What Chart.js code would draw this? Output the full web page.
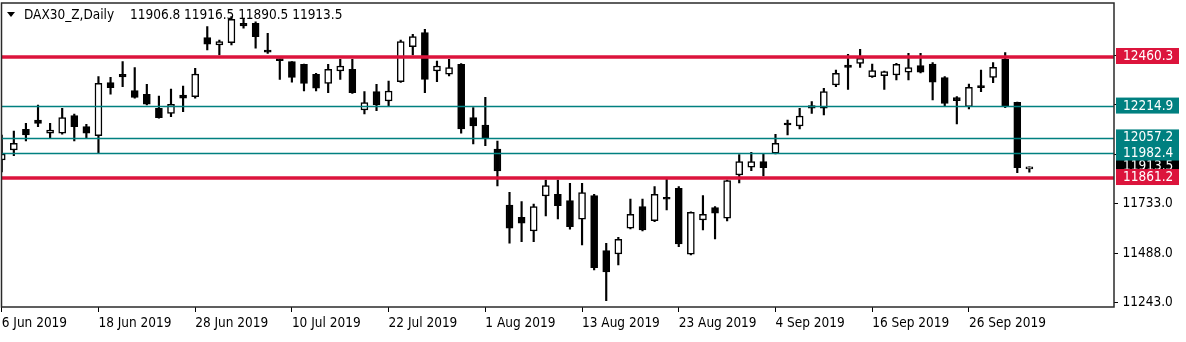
<!DOCTYPE html>
<html>
<head>
<meta charset="utf-8">
<title>DAX30_Z,Daily</title>
<script src="https://cdn.jsdelivr.net/npm/chart.js@4.4.1/dist/chart.umd.min.js"></script>
<style>
  html, body { margin: 0; padding: 0; background: #fff; }
  #grafico { display: block; }
</style>
</head>
<body>
<canvas id="grafico" width="1186" height="342"></canvas>
<script>
// Barras diárias: abertura, máxima, mínima e fechamento
const abertura = [
  11950.5, 12000.0, 12102.4, 12148.4, 12082.6, 12082.6, 12169.7, 12115.3, 12070.7, 12333.1,
  12374.7, 12293.5, 12275.7, 12206.4, 12181.6, 12272.2, 12263.8, 12555.8, 12519.7, 12531.1,
  12627.1, 12627.1, 12495.0, 12448.9, 12437.0, 12424.2, 12374.7, 12330.1, 12391.0, 12399.4,
  12198.0, 12288.5, 12242.5, 12338.0, 12511.3, 12580.6, 12391.0, 12374.7, 12424.2, 12159.8,
  12123.7, 12004.9, 11727.7, 11666.8, 11599.0, 11772.2, 11780.6, 11749.0, 11656.9, 11773.7,
  11501.5, 11485.2, 11612.4, 11719.3, 11650.0, 11763.8, 11810.4, 11483.7, 11653.5, 11714.3,
  11661.9, 11876.2, 11914.3, 11942.0, 11983.6, 12132.1, 12118.8, 12219.2, 12206.4, 12321.7,
  12420.7, 12429.1, 12362.8, 12367.7, 12371.2, 12384.6, 12417.2, 12425.7, 12357.8, 12258.8,
  12214.3, 12316.8, 12359.8, 12448.9, 12236.1, 11906.8
];
const maxima = [
  12074.2, 12094.0, 12132.1, 12222.7, 12132.1, 12206.4, 12178.1, 12127.2, 12362.8, 12359.8,
  12437.0, 12407.3, 12325.2, 12267.3, 12301.9, 12316.8, 12404.4, 12610.3, 12544.5, 12659.8,
  12651.9, 12635.0, 12577.6, 12450.0, 12438.0, 12425.0, 12379.6, 12424.2, 12448.9, 12448.9,
  12288.5, 12325.2, 12341.5, 12544.5, 12572.7, 12597.4, 12440.5, 12448.9, 12428.0, 12209.3,
  12260.8, 12044.5, 11790.6, 11744.0, 11732.6, 11851.4, 11851.4, 11835.1, 11835.1, 11780.6,
  11538.1, 11567.8, 11757.4, 11757.4, 11818.3, 11854.9, 11818.3, 11694.0, 11773.7, 11719.3,
  11851.4, 11977.2, 11988.6, 11978.7, 12077.7, 12148.4, 12206.4, 12239.0, 12305.4, 12396.0,
  12473.7, 12498.4, 12425.7, 12390.0, 12429.1, 12478.6, 12478.6, 12432.1, 12362.8, 12263.8,
  12326.6, 12396.0, 12432.1, 12481.6, 12237.0, 11916.5
];
const minima = [
  11891.1, 11971.7, 12044.5, 12115.3, 12057.9, 12077.7, 12044.5, 12057.9, 11983.6, 12275.7,
  12313.3, 12255.9, 12222.7, 12156.9, 12164.8, 12189.5, 12255.9, 12495.0, 12470.2, 12519.7,
  12602.4, 12503.4, 12478.6, 12349.9, 12335.1, 12292.0, 12292.0, 12283.6, 12349.9, 12280.0,
  12178.1, 12194.5, 12214.3, 12335.0, 12470.2, 12283.6, 12338.0, 12366.3, 12082.6, 12029.7,
  12021.3, 11821.8, 11538.1, 11546.0, 11546.0, 11673.2, 11658.4, 11607.4, 11529.7, 11406.0,
  11254.0, 11430.7, 11608.9, 11599.0, 11645.0, 11703.0, 11521.3, 11480.2, 11604.0, 11559.4,
  11648.5, 11836.6, 11897.5, 11871.3, 11980.2, 12074.2, 12103.9, 12181.6, 12173.2, 12313.3,
  12300.4, 12409.3, 12359.8, 12300.4, 12346.5, 12346.5, 12382.0, 12247.5, 12217.7, 12128.6,
  12202.9, 12288.5, 12333.1, 12210.0, 11887.6, 11890.5
];
const fechamento = [
  11980.2, 12033.1, 12074.2, 12132.1, 12098.9, 12159.8, 12115.3, 12082.6, 12330.1, 12308.3,
  12361.3, 12260.8, 12226.2, 12159.8, 12226.2, 12255.9, 12376.2, 12523.2, 12536.0, 12646.9,
  12613.8, 12560.8, 12483.6, 12442.0, 12359.8, 12330.1, 12305.4, 12399.4, 12415.8, 12283.6,
  12234.1, 12222.7, 12292.0, 12536.0, 12560.8, 12349.9, 12415.8, 12407.3, 12103.9, 12118.8,
  12057.9, 11896.0, 11612.4, 11637.1, 11719.3, 11823.2, 11724.2, 11620.3, 11788.6, 11417.3,
  11396.1, 11557.9, 11681.7, 11604.0, 11780.6, 11755.9, 11534.6, 11691.6, 11681.7, 11686.6,
  11848.0, 11942.0, 11942.0, 11912.3, 12033.1, 12123.7, 12168.3, 12206.4, 12288.5, 12379.6,
  12409.3, 12453.9, 12392.5, 12387.5, 12424.2, 12407.3, 12384.6, 12335.1, 12231.1, 12244.0,
  12310.3, 12308.3, 12409.3, 12214.3, 11912.0, 11913.5
];

// Rótulos do eixo de tempo (um a cada 8 barras)
const rotulosDatas = ['6 Jun 2019', '18 Jun 2019', '28 Jun 2019', '10 Jul 2019', '22 Jul 2019',
  '1 Aug 2019', '13 Aug 2019', '23 Aug 2019', '4 Sep 2019', '16 Sep 2019', '26 Sep 2019'];
const passoDatas = 8;

// Escala de preços e níveis horizontais
const ticksPreco = [11243, 11488, 11733, 11978, 12223, 12468];
const niveisVermelhos = [12460.3, 11861.2];
const niveisVerdes = [12214.9, 12057.2, 11982.4];
const simbolo = 'DAX30_Z,Daily';

const fonte = '"DejaVu Sans Condensed", "DejaVu Sans", sans-serif';
const tamFonte = 13.5;

function corCandle(i) {
    return fechamento[i] >= abertura[i] ? '#ffffff' : '#000000';
}

// Linhas de suporte/resistência, moldura, etiquetas de preço e cabeçalho
const pluginNiveis = {
    id: 'niveis',
    afterDatasetsDraw(chart) {
        const { ctx, chartArea: a, scales: { y } } = chart;
        ctx.save();
        ctx.beginPath();
        ctx.rect(a.left, a.top, a.right - a.left, a.bottom - a.top);
        ctx.clip();
        const linha = (v, cor, largura) => {
            const py = y.getPixelForValue(v);
            ctx.strokeStyle = cor;
            ctx.lineWidth = largura;
            ctx.beginPath();
            ctx.moveTo(a.left, py);
            ctx.lineTo(a.right, py);
            ctx.stroke();
        };
        niveisVerdes.forEach(v => linha(v, '#008080', 1.5));
        niveisVermelhos.forEach(v => linha(v, '#dc143c', 3.5));
        ctx.restore();
    },
    afterDraw(chart) {
        const { ctx, chartArea: a, scales: { y } } = chart;
        ctx.save();
        // moldura da área do gráfico
        ctx.strokeStyle = '#2a2a2a';
        ctx.lineWidth = 1.5;
        ctx.strokeRect(a.left, a.top, a.right - a.left, a.bottom - a.top);

        // etiquetas coloridas no eixo de preços
        ctx.font = tamFonte + 'px ' + fonte;
        ctx.textBaseline = 'middle';
        ctx.textAlign = 'left';
        const etiqueta = (v, fundo, corTexto) => {
            const py = y.getPixelForValue(v) - 1;
            ctx.fillStyle = fundo;
            ctx.fillRect(a.right + 2, py - 8, 63, 16);
            ctx.fillStyle = corTexto;
            ctx.fillText(v.toFixed(1), a.right + 9, py + 0.5);
        };
        etiqueta(fechamento[fechamento.length - 1], '#000000', '#ffffff');
        niveisVerdes.forEach(v => etiqueta(v, '#008080', '#ffffff'));
        niveisVermelhos.forEach(v => etiqueta(v, '#dc143c', '#ffffff'));

        // cabeçalho: símbolo e OHLC da última barra
        const u = fechamento.length - 1;
        ctx.fillStyle = '#000000';
        ctx.beginPath();
        ctx.moveTo(7, 12);
        ctx.lineTo(15, 12);
        ctx.lineTo(11, 17);
        ctx.closePath();
        ctx.fill();
        ctx.fillText(simbolo, 24, 15);
        const ohlc = [abertura[u], maxima[u], minima[u], fechamento[u]].map(v => v.toFixed(1)).join(' ');
        ctx.fillText(ohlc, 130, 15);
        ctx.restore();
    }
};

// Sem folga extra para os rótulos das pontas: a área do gráfico fica fixa
function ajustaEixo(s, prop, tamanho) {
    s[prop] = tamanho;
    s.paddingTop = 0;
    s.paddingBottom = 0;
    s.paddingLeft = 0;
    s.paddingRight = 0;
}

function grafico(canvas = 'grafico') {
    const canvasElement = document.getElementById(canvas);
    if (!canvasElement) {
        console.error('Elemento canvas ' + canvas + ' não encontrado.');
        return;
    }
    // corpo do candle (abertura → fechamento) e pavio (mínima → máxima)
    const corpos = abertura.map((o, i) => ({ x: i, y: [o, fechamento[i]] }));
    const pavios = maxima.map((h, i) => ({ x: i, y: [minima[i], h] }));

    const ctx = canvasElement.getContext('2d');
    return new Chart(ctx, {
        type: 'bar',
        data: {
            datasets: [
                {
                    label: 'corpo',
                    data: corpos,
                    backgroundColor: c => corCandle(c.dataIndex),
                    borderColor: '#000000',
                    borderWidth: 1.5,
                    borderSkipped: false,
                    barThickness: 7,
                    minBarLength: 2,
                    grouped: false
                },
                {
                    label: 'pavio',
                    data: pavios,
                    backgroundColor: '#000000',
                    borderWidth: 0,
                    barThickness: 1.5,
                    grouped: false
                }
            ]
        },
        options: {
            responsive: false,
            animation: false,
            events: [],
            layout: { padding: { left: 1.5, top: 3, right: 0, bottom: 0 } },
            plugins: {
                legend: { display: false },
                tooltip: { enabled: false }
            },
            scales: {
                x: {
                    type: 'linear',
                    min: -0.02,
                    max: 92,
                    offset: false,
                    afterBuildTicks: s => { s.ticks = rotulosDatas.map((t, i) => ({ value: i * passoDatas })); },
                    afterFit: s => ajustaEixo(s, 'height', 35),
                    ticks: {
                        callback: v => rotulosDatas[Math.round(v / passoDatas)],
                        align: 'start',
                        maxRotation: 0,
                        autoSkip: false,
                        color: '#000000',
                        padding: 3,
                        font: { family: fonte, size: tamFonte }
                    },
                    grid: { drawOnChartArea: false, offset: false, tickLength: 5, color: '#000000' },
                    border: { display: false }
                },
                y: {
                    position: 'right',
                    min: 11222.7,
                    max: 12727.6,
                    afterBuildTicks: s => { s.ticks = ticksPreco.map(v => ({ value: v })); },
                    afterFit: s => ajustaEixo(s, 'width', 72),
                    ticks: {
                        callback: v => v.toFixed(1),
                        autoSkip: false,
                        color: '#000000',
                        padding: 4.5,
                        font: { family: fonte, size: tamFonte }
                    },
                    grid: { drawOnChartArea: false, tickLength: 4, color: '#000000' },
                    border: { display: false }
                }
            }
        },
        plugins: [pluginNiveis]
    });
}

grafico();
</script>
</body>
</html>
